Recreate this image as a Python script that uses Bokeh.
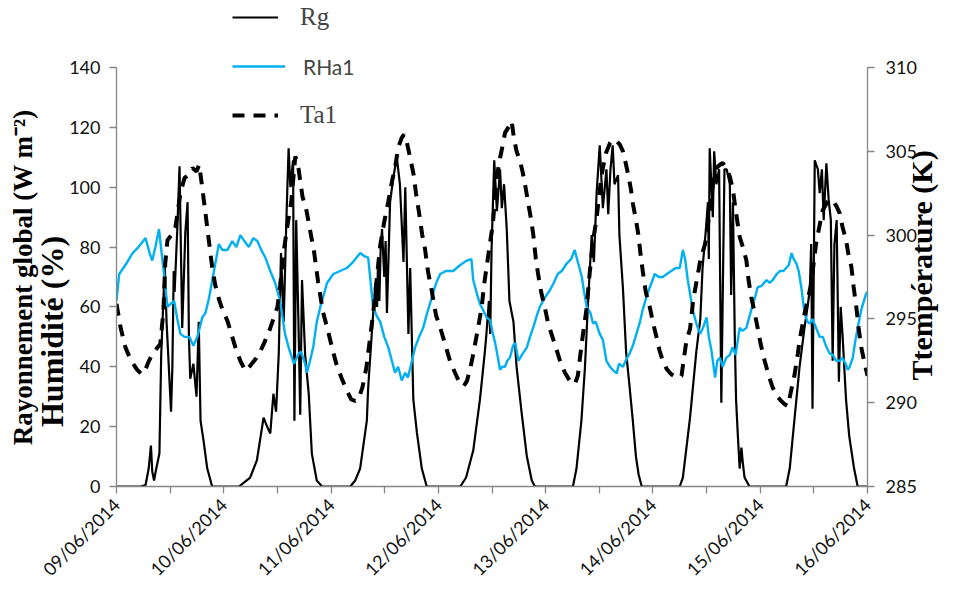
from math import pi
from bokeh.plotting import figure
from bokeh.models import Range1d, LinearAxis, FixedTicker, Legend, LegendItem
from bokeh.embed import file_html
from bokeh.resources import INLINE

# ---------------- data (hours since 09/06/2014 00:00) ----------------
dates = ["09/06/2014", "10/06/2014", "11/06/2014", "12/06/2014",
         "13/06/2014", "14/06/2014", "15/06/2014", "16/06/2014"]
day_hours = [0, 24, 48, 72, 96, 120, 144, 168]
half_day_hours = [12, 36, 60, 84, 108, 132, 156]
left_ticks = [0, 20, 40, 60, 80, 100, 120, 140]
right_ticks = [285, 290, 295, 300, 305, 310]

rg_hours = [0, 5.4, 6.5, 7.2, 7.7, 8.0, 8.4, 8.9, 9.6, 10.0, 10.8, 11.2, 12.2, 12.5, 12.8, 13.0,
            13.6, 14.1, 14.7, 15.4, 15.9, 16.2, 16.5, 17.2, 17.9, 18.4, 18.8, 19.5, 20.3, 21.4,
            27.4, 29.9, 31.4, 32.9, 33.7, 34.4, 35.1, 35.7, 36.3, 36.8, 37.4, 38.0, 38.5, 38.9,
            39.5, 39.8, 40.2, 40.7, 41.1, 41.5, 42.2, 43.0, 43.7, 44.8, 46.0,
            52.3, 53.4, 54.5, 56.0, 56.3, 57.1, 57.9, 58.3, 58.5, 58.8, 59.1, 59.4, 59.9, 60.2,
            60.5, 61.2, 61.9, 62.7, 63.4, 64.2, 64.6, 65.3, 65.7, 66.4, 67.2, 68.3, 69.4,
            76.9, 78.2, 79.8, 81.3, 82.4, 82.7, 83.3, 83.6, 83.9, 84.5, 85.1, 85.8, 86.2, 86.7,
            87.3, 87.9, 88.8, 89.5, 90.6, 91.8, 92.9, 93.6,
            102.1, 102.9, 104.0, 104.8, 105.5, 106.3, 106.8, 107.4, 108.1, 108.8, 109.6, 110.0,
            110.5, 111.0, 111.4, 112.2, 112.5, 113.3, 114.0, 114.8, 115.5, 116.2, 116.8, 117.5,
            126.0, 126.7, 128.3, 129.7, 130.6, 131.1, 131.8, 132.3, 132.5, 132.7, 133.4, 133.7,
            134.2, 134.8, 135.3, 135.6, 136.0, 136.5, 137.2, 137.5, 137.9, 138.3, 138.6, 139.0,
            139.4, 139.8, 140.1, 140.5, 141.6,
            149.8, 150.6, 151.7, 152.8, 153.9, 154.6, 155.1, 155.4, 155.7, 156.2, 156.9, 157.3,
            157.8, 158.2, 158.8, 159.3, 159.8, 160.2, 160.6, 161.1, 161.6, 162.0, 162.4, 163.2,
            163.9, 165.0, 165.8, 168]
rg_values = [0, 0, 0.5, 6, 13.7, 5, 2, 6, 11, 44, 74, 55, 25, 40, 72, 65,
             86, 107, 53, 85, 95, 50, 36, 41, 30, 55, 22, 15, 6, 0,
             0, 3, 8.7, 23, 20, 17.7, 31, 25, 44.5, 78, 55, 89, 113, 100,
             109, 22, 89, 55, 24, 69, 44, 31, 11, 2, 0,
             0, 2, 6, 22, 33, 51, 68, 60, 75, 62, 80, 86, 70, 82,
             58, 95, 103, 110, 101, 75, 100, 51, 73, 29, 18, 6, 0,
             0, 3, 12, 29, 45, 50, 62, 51, 79, 109, 92, 106, 93, 101,
             86, 62, 55, 40, 25, 10, 2, 0,
             0, 6, 22, 40, 62, 84, 75, 98, 114, 93, 106, 91,
             106, 114, 101, 104, 84, 66, 45, 33, 22, 10, 4, 0,
             0, 3, 23, 45, 56, 73, 85, 95, 76, 113, 90, 112,
             101, 106, 28, 62, 106, 106, 101, 64, 95, 51, 29, 17,
             6, 13, 8, 3, 0,
             0, 6, 23, 40, 53, 60, 66, 81, 26, 109, 106, 98,
             106, 89, 108, 96, 89, 42, 81, 89, 35, 60, 51, 29,
             17, 6, 0, 0]

rh_hours = [0, 0.6, 2.0, 3.6, 4.9, 6.5, 7.4, 8.0, 8.7, 9.5, 10.1, 10.7, 11.4, 12.1, 12.9, 13.6,
            14.3, 15.2, 16.3, 17.2, 18.1, 19.2, 19.9, 20.7, 21.8, 22.9, 23.7, 24.8, 25.9, 26.8,
            27.7, 28.6, 29.6, 30.6, 31.5, 32.4, 33.3, 34.4, 35.5, 36.6, 37.7, 38.6, 39.7, 40.8,
            41.3, 42.2, 42.6, 43.3, 44.0, 44.8, 45.6, 47.1, 48.5, 50.0, 51.5, 52.9, 54.5, 55.4,
            56.3, 57.0, 57.4, 58.2, 59.0, 59.9, 60.8, 61.6, 62.3, 63.0, 63.8, 64.6, 65.2, 66.1,
            66.8, 67.7, 68.6, 69.5, 70.5, 71.5, 72.4, 73.7, 75.3, 76.9, 78.4, 79.4, 79.8, 80.7,
            81.3, 82.0, 82.8, 83.6, 84.2, 84.7, 85.2, 85.8, 86.3, 86.9, 87.4, 88.0, 88.7, 89.2,
            89.9, 90.7, 91.8, 92.5, 93.2, 94.0, 94.7, 95.8, 96.9, 97.8, 98.7, 99.6, 100.7, 101.7,
            102.5, 103.2, 104.1, 104.6, 105.2, 106.0, 106.6, 107.2, 108.1, 108.8, 109.6, 110.4,
            111.0, 111.9, 112.4, 113.3, 113.9, 114.8, 115.5, 116.3, 117.1, 117.7, 118.5, 119.3,
            120.4, 121.3, 122.2, 123.1, 124.1, 125.1, 126.0, 126.7, 127.2, 127.8, 128.9, 129.8,
            130.6, 131.2, 132.0, 132.5, 133.1, 133.9, 134.4, 135.0, 135.6, 136.4, 137.2, 137.8,
            138.5, 139.4, 140.0, 140.9, 142.0, 142.8, 143.4, 144.3, 145.4, 146.1, 146.8, 147.7,
            148.4, 149.2, 149.8, 150.4, 151.0, 151.5, 152.1, 152.6, 153.2, 153.9, 154.6, 155.1,
            155.7, 156.5, 157.3, 158.0, 158.7, 159.5, 160.2, 161.0, 161.8, 162.4, 163.1, 163.6,
            164.0, 164.7, 165.2, 165.8, 166.6, 167.7, 168]
rh_values = [62, 71, 74, 78, 80, 83, 78, 75.5, 80, 86, 78, 70, 60, 61, 62, 56,
             51, 50, 50, 47, 50, 56.5, 58, 63, 72, 81, 79, 79, 82, 80,
             84, 82, 80, 83, 82, 79, 76.5, 72, 68, 62, 51, 46, 41, 44.5,
             45, 41, 38, 42, 46.5, 55, 60, 68, 71, 72, 73, 75, 78, 77,
             76.5, 66, 60, 57, 55, 50, 46.5, 42, 38, 40, 35.4, 38, 36.4, 42,
             46.5, 50, 53, 58, 63, 68, 71, 72, 72, 74, 75.5, 76, 69, 64,
             61, 59, 56.5, 55.5, 51, 48, 44, 39, 40, 40, 42, 43, 47, 48,
             42, 44, 46.5, 50, 53, 57, 60, 63, 65.5, 68, 71, 72, 74.5, 76,
             79, 75, 70, 65, 60, 58, 54.5, 55, 51, 49, 42, 40,
             39, 37.8, 41, 40, 42, 44.5, 47, 51, 55, 59, 63, 66.5,
             71, 70, 70, 71, 72, 73, 73, 79, 76, 69, 59, 54,
             51, 53, 56.5, 50, 45.4, 36.4, 42, 43, 40, 43, 44, 46.5,
             44, 53, 52, 53, 59, 63, 66.5, 67, 69, 68, 69, 71,
             72, 72, 73, 74, 78, 76, 74.5, 72, 66.5, 58, 55, 54.5,
             56, 53, 50, 50, 47, 44.5, 44, 42, 42, 43, 41, 39,
             40, 43, 48, 53, 59, 64.5, 65]

ta_hours = [0, 0.9, 2.0, 3.1, 4.5, 5.6, 6.2, 7.1, 8.0, 8.9, 9.8, 10.5, 10.9, 11.4, 12.3, 13.2,
            14.3, 15.2, 16.1, 17.0, 17.9, 18.5, 19.2, 19.9, 20.6, 21.4, 22.1, 23.0, 23.9, 24.8,
            25.7, 26.6, 27.7, 28.8, 29.9, 31.1, 31.9, 33.1, 34.2, 35.1, 36.0, 36.6, 37.3, 38.2,
            39.1, 40.0, 40.7, 41.6, 42.4, 43.3, 44.2, 45.1, 46.2, 47.1, 48.3, 49.2, 50.3, 51.4,
            52.5, 53.4, 54.1, 55.0, 55.9, 56.7, 57.4, 58.3, 59.0, 59.9, 60.8, 61.7, 62.3, 63.0,
            63.8, 64.3, 64.9, 65.7, 66.4, 67.0, 67.7, 68.4, 69.0, 69.7, 70.5, 71.5, 72.4, 73.5,
            74.6, 75.7, 76.9, 77.7, 78.4, 79.1, 79.8, 80.7, 81.7, 82.2, 82.8, 83.6, 84.2, 85.1,
            85.8, 86.5, 86.9, 87.6, 88.4, 88.9, 89.5, 90.3, 90.9, 91.6, 92.1, 92.7, 93.2, 93.8,
            94.3, 95.0, 95.8, 96.5, 97.3, 98.3, 99.2, 100.3, 101.4, 102.5, 103.2, 103.6, 104.3,
            105.2, 105.7, 106.3, 106.8, 107.4, 108.1, 108.8, 109.5, 110.4, 111.0, 111.9, 112.6,
            113.3, 113.9, 114.4, 115.1, 115.5, 116.2, 116.7, 117.3, 117.8, 118.4, 119.3, 120.0,
            120.8, 121.5, 122.2, 123.1, 124.1, 125.3, 126.4, 126.9, 127.5, 128.3, 129.0, 129.8,
            130.6, 131.7, 132.3, 132.8, 133.4, 134.2, 135.0, 135.6, 136.4, 137.2, 137.9, 138.5,
            139.4, 140.1, 140.9, 141.4, 142.0, 142.8, 143.4, 144.1, 145.0, 145.9, 146.8, 147.7,
            148.7, 149.5, 150.2, 150.9, 151.7, 152.4, 152.8, 153.9, 154.6, 155.4, 155.9, 156.5,
            157.3, 158.0, 159.1, 160.2, 161.1, 161.8, 162.4, 163.2, 163.7, 164.4, 164.9, 165.5,
            166.0, 166.6, 167.4, 168]
ta_values = [295.9, 294.5, 293.3, 292.6, 292.0, 291.7, 291.8, 292.4, 292.9, 293.2, 293.5, 295.5,
             298.3, 299.7, 300.0, 300.5, 302.5, 303.4, 303.6, 304.0, 303.8, 304.2, 302.8, 301.3,
             299.8, 298.1, 297.0, 296.1, 295.4, 294.9, 294.1, 293.3, 292.5, 291.9, 292.2, 292.6,
             292.9, 293.6, 294.3, 295.0, 295.7, 297.0, 298.8, 300.5, 302.0, 304.7, 304.0, 302.3,
             301.6, 300.3, 299.0, 297.2, 295.4, 294.5, 293.2, 292.3, 291.5, 290.8, 290.2, 290.1,
             290.2, 290.9, 292.1, 293.8, 295.3, 297.6, 299.4, 300.8, 302.0, 303.3, 304.0, 305.2,
             305.8, 306.0, 305.6, 304.6, 303.7, 302.5, 301.3, 300.0, 299.2, 297.8, 296.7, 295.2,
             294.5, 293.5, 292.5, 291.8, 291.1, 291.0, 291.3, 292.0, 292.9, 294.2, 295.7, 297.0,
             298.1, 299.6, 300.7, 303.5, 304.6, 305.5, 306.1, 306.4, 306.8, 305.8, 305.0, 304.4,
             303.7, 302.7, 301.9, 301.0, 300.1, 298.6, 297.7, 296.6, 295.7, 294.8, 294.1, 293.3,
             292.5, 291.8, 291.3, 291.1, 291.6, 292.5, 294.0, 295.7, 297.3, 298.9, 300.0, 301.0,
             302.7, 304.0, 304.9, 305.5, 305.7, 305.6, 305.4, 305.0, 304.3, 303.7, 302.7, 301.9,
             300.9, 300.1, 298.7, 297.7, 296.6, 295.7, 294.8, 293.9, 293.1, 292.5, 292.0, 291.7,
             291.5, 291.6, 292.6, 293.7, 294.4, 296.1, 297.3, 298.5, 299.5, 300.6, 301.7, 303.0,
             304.0, 304.2, 304.3, 304.0, 303.5, 302.7, 301.5, 299.9, 299.3, 298.5, 297.3, 296.3,
             295.3, 294.5, 293.5, 292.5, 291.6, 290.9, 290.4, 290.1, 289.9, 289.8, 290.7, 291.7,
             292.9, 293.7, 295.3, 296.1, 297.1, 298.2, 299.5, 300.6, 301.5, 302.0, 302.1, 301.7,
             301.3, 300.5, 299.7, 298.9, 298.1, 296.9, 295.7, 294.5, 293.3, 292.3, 291.6]

# ---------------- layout ----------------
AXIS_GREY = "#868686"
TICK_FONT = "Lato"
TITLE_FONT = "Liberation Serif"
NB = "\u00a0"

W, H = 957, 590
BORDER_LEFT, BORDER_RIGHT, BORDER_BOTTOM = 116, 88, 104
FRAME_H = H - BORDER_BOTTOM            # frame reaches the top of the canvas (legend room)
AXIS_H = 419                           # pixel height of the 0..140 axis span
stretch = FRAME_H / AXIS_H

left_lo, left_hi = left_ticks[0], left_ticks[-1]
right_lo, right_hi = right_ticks[0], right_ticks[-1]

p = figure(width=W, height=H, output_backend="svg", toolbar_location=None,
           x_range=Range1d(day_hours[0], day_hours[-1]),
           y_range=Range1d(left_lo, left_lo + (left_hi - left_lo) * stretch),
           min_border_left=BORDER_LEFT, min_border_right=BORDER_RIGHT,
           min_border_top=0, min_border_bottom=BORDER_BOTTOM)
p.extra_y_ranges = {"ta": Range1d(right_lo, right_lo + (right_hi - right_lo) * stretch)}
p.outline_line_color = None
p.xgrid.visible = False
p.ygrid.visible = False

r_rg = p.line(rg_hours, rg_values, line_color="black", line_width=2.2)
r_rh = p.line(rh_hours, rh_values, line_color="#00B0F0", line_width=2.4)
r_ta = p.line(ta_hours, ta_values, line_color="black", line_width=4, line_dash="12 9",
              y_range_name="ta")

right_axis = LinearAxis(y_range_name="ta", bounds=(right_lo, right_hi))
p.add_layout(right_axis, "right")

# right title drawn as the single rotated label of an extra, line-less axis
TITLE_START_PX = 380                   # canvas y where the right title starts (reads upward)
title_pos = round(right_lo + (FRAME_H - TITLE_START_PX) / AXIS_H * (right_hi - right_lo), 2)
title_axis = LinearAxis(y_range_name="ta", ticker=FixedTicker(ticks=[title_pos]))
title_axis.major_label_overrides = {title_pos: "Ttemp\u00e9rature (K)"}
title_axis.major_label_orientation = pi / 2
title_axis.axis_line_color = None
title_axis.major_tick_out = 0
title_axis.major_tick_in = 0
title_axis.minor_tick_out = 0
title_axis.minor_tick_in = 0
title_axis.major_label_standoff = 2
title_axis.major_label_text_font = TITLE_FONT
title_axis.major_label_text_font_style = "bold"
title_axis.major_label_text_font_size = "30px"
title_axis.major_label_text_color = "black"
p.add_layout(title_axis, "right")

outer_left = LinearAxis(ticker=FixedTicker(ticks=[]))
p.add_layout(outer_left, "left")

p.xaxis[0].ticker = FixedTicker(ticks=day_hours, minor_ticks=half_day_hours)
p.xaxis[0].major_label_overrides = dict(zip(day_hours, dates))
p.xaxis[0].major_label_orientation = pi / 4
inner_left = p.yaxis[0]
inner_left.ticker = FixedTicker(ticks=left_ticks)
inner_left.bounds = (left_lo, left_hi)
right_axis.ticker = FixedTicker(ticks=right_ticks)

for ax in [p.xaxis[0], inner_left, right_axis]:
    ax.axis_line_color = AXIS_GREY
    ax.axis_line_width = 1.3
    ax.major_tick_line_color = AXIS_GREY
    ax.minor_tick_line_color = AXIS_GREY
    ax.major_tick_line_width = 1.3
    ax.minor_tick_line_width = 1.3
    ax.major_tick_out = 7
    ax.major_tick_in = 0
    ax.minor_tick_out = 0
    ax.minor_tick_in = 0
    ax.major_label_text_font = TICK_FONT
    ax.major_label_text_font_size = "18px"
    ax.major_label_text_color = "#111111"
p.xaxis[0].minor_tick_out = 7
p.xaxis[0].major_label_standoff = 8
inner_left.major_label_standoff = 9
right_axis.major_label_standoff = 11

for ax in [inner_left, outer_left]:
    ax.axis_label_text_font = TITLE_FONT
    ax.axis_label_text_font_style = "bold"
    ax.axis_label_text_color = "black"

outer_left.axis_line_color = None
outer_left.major_tick_out = 0
outer_left.major_tick_in = 0
outer_left.minor_tick_out = 0
outer_left.minor_tick_in = 0
outer_left.major_label_standoff = 0
outer_left.axis_label = "Rayonnement global (W m\u207b\u00b2)" + NB * 10
outer_left.axis_label_text_font_size = "27px"
outer_left.axis_label_standoff = -6

inner_left.axis_label = "Humidit\u00e9 (%)" + NB * 22
inner_left.axis_label_text_font_size = "32px"
inner_left.axis_label_standoff = -4

# legends (inside the frame, which reaches the top of the canvas)
leg_common = dict(orientation="vertical", padding=0, margin=0,
                  background_fill_alpha=0, border_line_alpha=0)
leg_rg = Legend(items=[LegendItem(label="Rg", renderers=[r_rg])],
                location=(116, 454), glyph_width=46, glyph_height=30, label_height=30,
                label_standoff=22, label_text_font=TITLE_FONT, label_text_font_size="25px",
                **leg_common)
leg_rh = Legend(items=[LegendItem(label="RHa1", renderers=[r_rh])],
                location=(116, 407), glyph_width=53, glyph_height=26, label_height=26,
                label_standoff=18, label_text_font=TICK_FONT, label_text_font_size="21px",
                **leg_common)
leg_ta = Legend(items=[LegendItem(label="Ta1", renderers=[r_ta])],
                location=(116, 356), glyph_width=46, glyph_height=30, label_height=30,
                label_standoff=22, label_text_font=TITLE_FONT, label_text_font_size="25px",
                **leg_common)
p.add_layout(leg_rg)
p.add_layout(leg_rh)
p.add_layout(leg_ta)

open("out.html", "w").write(file_html(p, INLINE))
